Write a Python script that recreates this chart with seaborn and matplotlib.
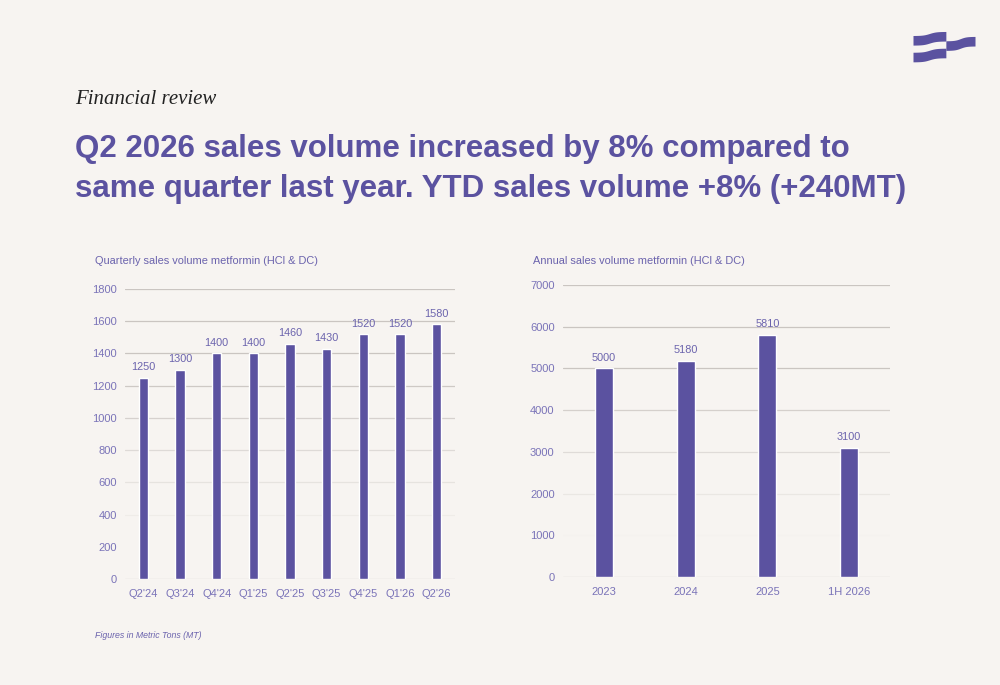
import numpy as np
import matplotlib
matplotlib.use("Agg")
import matplotlib.pyplot as plt
from matplotlib import font_manager
import seaborn as sns

# data
quarters = ["Q2'24", "Q3'24", "Q4'24", "Q1'25", "Q2'25", "Q3'25", "Q4'25", "Q1'26", "Q2'26"]
quarter_volume = [1250, 1300, 1400, 1400, 1460, 1430, 1520, 1520, 1580]
quarter_ticks = [0, 200, 400, 600, 800, 1000, 1200, 1400, 1600, 1800]

years = ["2023", "2024", "2025", "1H 2026"]
year_volume = [5000, 5180, 5810, 3100]
year_ticks = [0, 1000, 2000, 3000, 4000, 5000, 6000, 7000]

BG = "#f7f4f1"
BAR = "#5b52a0"
TXT = "#6b63ad"
TICK = "#7a73b8"
GRID = "#cac5c1"


def pick_font(families):
    for fam in families:
        try:
            font_manager.findfont(font_manager.FontProperties(family=fam, weight="bold"),
                                  fallback_to_default=False)
            return fam
        except ValueError:
            continue
    return "DejaVu Sans"


sns.set_theme(style="white")
plt.rcParams["font.family"] = ["Liberation Sans", "DejaVu Sans"]

narrow = pick_font(["Liberation Sans Narrow"])
if narrow == "Liberation Sans Narrow":
    title_font, title_size = narrow, 27
else:
    title_font, title_size = "Liberation Sans", 22.5


def draw_panel(ax, cats, vals, ticks, bar_width):
    sns.barplot(x=cats, y=vals, ax=ax, color=BAR, saturation=1, width=bar_width)
    ax.set_facecolor(BG)
    ax.set_ylim(ticks[0], ticks[-1])
    ax.set_xlim(-0.5, len(cats) - 0.5)
    ax.set_yticks(ticks)
    sns.despine(ax=ax, left=True, bottom=True)
    ax.tick_params(axis="both", length=0, labelsize=8, labelcolor=TICK)
    ax.tick_params(axis="x", pad=7)
    ax.tick_params(axis="y", pad=6)
    # gridlines fade out towards the bottom
    top = ticks[-1]
    for t in ticks[1:]:
        a = float(np.clip((t / top - 0.12) / 0.6, 0, 1))
        ax.axhline(t, color=GRID, lw=0.9, alpha=a, zorder=0)
    ax.axhline(0, color="#e2ddd9", lw=1.0, zorder=0)
    ax.bar_label(ax.containers[0], padding=4, fontsize=7.8, color=TXT)
    ax.set_xlabel("")
    ax.set_ylabel("")


fig = plt.figure(figsize=(10, 6.85), dpi=100, facecolor=BG)

ax1 = fig.add_axes([0.125, 0.1547, 0.33, 0.4234])
draw_panel(ax1, quarters, quarter_volume, quarter_ticks, 0.25)

ax2 = fig.add_axes([0.563, 0.1577, 0.327, 0.4263])
draw_panel(ax2, years, year_volume, year_ticks, 0.22)

sub_y = 1 - 264 / 685
fig.text(0.095, sub_y, "Quarterly sales volume metformin (HCl & DC)", fontsize=7.9,
         color=TXT, va="baseline")
fig.text(0.533, sub_y, "Annual sales volume metformin (HCl & DC)", fontsize=7.9,
         color=TXT, va="baseline")

fig.text(0.075, 0.848, "Financial review", fontsize=15, style="italic",
         family=["Liberation Serif", "DejaVu Serif"], color="#222222", va="baseline")
fig.text(0.075, 0.7708, "Q2 2026 sales volume increased by 8% compared to",
         fontsize=title_size, weight="bold", family=[title_font, "DejaVu Sans"],
         color=BAR, va="baseline")
fig.text(0.075, 0.7124, "same quarter last year. YTD sales volume +8% (+240MT)",
         fontsize=title_size, weight="bold", family=[title_font, "DejaVu Sans"],
         color=BAR, va="baseline")
fig.text(0.095, 1 - 638 / 685, "Figures in Metric Tons (MT)", fontsize=6.3,
         style="italic", color=TXT, va="baseline")

# logo: three wavy bands
logo = fig.add_axes([0.913, 1 - 62 / 685, 0.062, 31 / 685])
logo.set_xlim(0, 1)
logo.set_ylim(0, 1)
logo.axis("off")
k = 5.0
for x0, x1, y0, y1 in [(0, 0.53, 0.70, 0.83), (0.53, 1.0, 0.53, 0.67), (0, 0.53, 0.16, 0.29)]:
    xs = np.linspace(x0, x1, 80)
    tt = (xs - x0) / (x1 - x0)
    s = (np.tanh(k * (tt - 0.5)) + np.tanh(k / 2)) / (2 * np.tanh(k / 2))
    c = y0 + (y1 - y0) * s
    logo.fill_between(xs, c - 0.155, c + 0.155, color=BAR, lw=0)

fig.savefig("out.png", dpi=100, facecolor=BG)
